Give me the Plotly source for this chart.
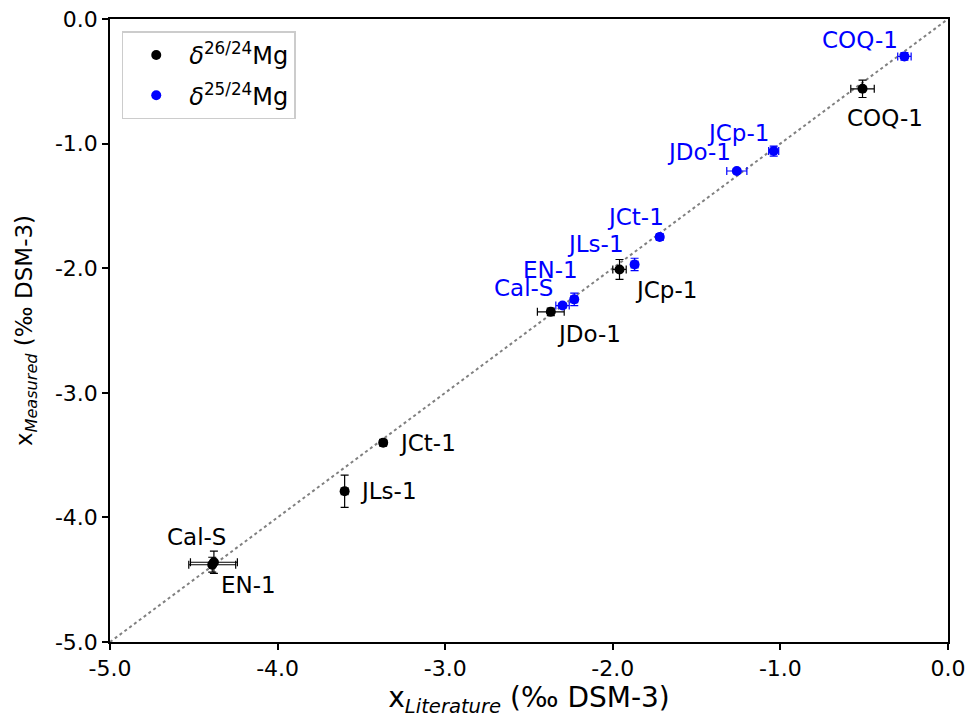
import plotly.graph_objects as go

# ---- data ----
samples_26 = ["COQ-1", "JCp-1", "JDo-1", "JCt-1", "JLs-1", "Cal-S", "EN-1"]
lit_26 = [-0.51, -1.96, -2.37, -3.37, -3.60, -4.38, -4.39]
lit_26_err = [0.07, 0.04, 0.08, 0.02, 0.02, 0.14, 0.14]
meas_26 = [-0.56, -2.01, -2.35, -3.40, -3.79, -4.36, -4.38]
meas_26_err = [0.07, 0.08, 0.03, 0.02, 0.13, 0.09, 0.06]

samples_25 = ["COQ-1", "JCp-1", "JDo-1", "JCt-1", "JLs-1", "EN-1", "Cal-S"]
lit_25 = [-0.26, -1.04, -1.26, -1.72, -1.87, -2.23, -2.30]
lit_25_err = [0.04, 0.03, 0.06, 0.02, 0.02, 0.02, 0.04]
meas_25 = [-0.30, -1.06, -1.22, -1.75, -1.97, -2.25, -2.30]
meas_25_err = [0.03, 0.04, 0.02, 0.02, 0.05, 0.05, 0.02]

one_to_one = [-5.0, 0.0]
tick_vals = [-5.0, -4.0, -3.0, -2.0, -1.0, 0.0]
tick_text = ["-5.0", "-4.0", "-3.0", "-2.0", "-1.0", "0.0"]

# ---- label offsets (pixels: dx right, dy down) ----
off_26 = {"COQ-1": (22, 29), "JCp-1": (46, 21), "JDo-1": (38, 22), "JCt-1": (44, 0),
          "JLs-1": (44, 0), "Cal-S": (-17, -25), "EN-1": (36, 20)}
off_25 = {"COQ-1": (-44, -16), "JCp-1": (-36, -18), "JDo-1": (-38, -19), "JCt-1": (-24, -20),
          "JLs-1": (-39, -20), "EN-1": (-24, -29), "Cal-S": (-39, -18)}

FONT = "DejaVu Sans"
fig = go.Figure()

fig.add_trace(go.Scatter(x=one_to_one, y=one_to_one, mode="lines",
                         line=dict(color="gray", width=2, dash="dot"),
                         showlegend=False, hoverinfo="skip"))

fig.add_trace(go.Scatter(
    x=lit_26, y=meas_26, mode="markers", name="<i>δ</i><sup>26/24</sup>Mg",
    legendgroup="g26",
    marker=dict(color="black", size=10),
    error_x=dict(type="data", array=lit_26_err, color="black", thickness=1.2, width=4),
    error_y=dict(type="data", array=meas_26_err, color="black", thickness=1.2, width=4),
))
fig.add_trace(go.Scatter(
    x=lit_25, y=meas_25, mode="markers", name="<i>δ</i><sup>25/24</sup>Mg",
    legendgroup="g25",
    marker=dict(color="blue", size=10),
    error_x=dict(type="data", array=lit_25_err, color="blue", thickness=1.2, width=4),
    error_y=dict(type="data", array=meas_25_err, color="blue", thickness=1.2, width=4),
))

for s, x, y in zip(samples_26, lit_26, meas_26):
    dx, dy = off_26[s]
    fig.add_annotation(x=x, y=y, text=s, showarrow=False, xshift=dx, yshift=-dy,
                       font=dict(family=FONT, size=23, color="black"))
for s, x, y in zip(samples_25, lit_25, meas_25):
    dx, dy = off_25[s]
    fig.add_annotation(x=x, y=y, text=s, showarrow=False, xshift=dx, yshift=-dy,
                       font=dict(family=FONT, size=23, color="blue"))

axis_common = dict(range=[-5, 0], tickvals=tick_vals, ticktext=tick_text,
                   showgrid=False, zeroline=False, showline=True, linecolor="black",
                   linewidth=1.5, mirror=True, ticks="outside", ticklen=6, tickwidth=1.5,
                   tickcolor="black", automargin=False,
                   tickfont=dict(family=FONT, size=22, color="black"))

fig.update_layout(
    width=966, height=718,
    margin=dict(l=110, r=18, t=19, b=76),
    paper_bgcolor="white", plot_bgcolor="white",
    font=dict(family=FONT, color="black"),
    xaxis=dict(**axis_common,
               title=dict(text="x<sub><i>Literature</i></sub> (‰ DSM-3)",
                          font=dict(family=FONT, size=28), standoff=6)),
    yaxis=dict(**axis_common,
               title=dict(text="x<sub><i>Measured</i></sub> (‰ DSM-3)",
                          font=dict(family=FONT, size=23), standoff=16)),
    legend=dict(x=0.014, y=0.98, xanchor="left", yanchor="top",
                bgcolor="white", bordercolor="#cccccc", borderwidth=1.5,
                itemwidth=56,
                font=dict(family=FONT, size=24), tracegroupgap=6),
    showlegend=True,
)

fig.write_html("out.html")
